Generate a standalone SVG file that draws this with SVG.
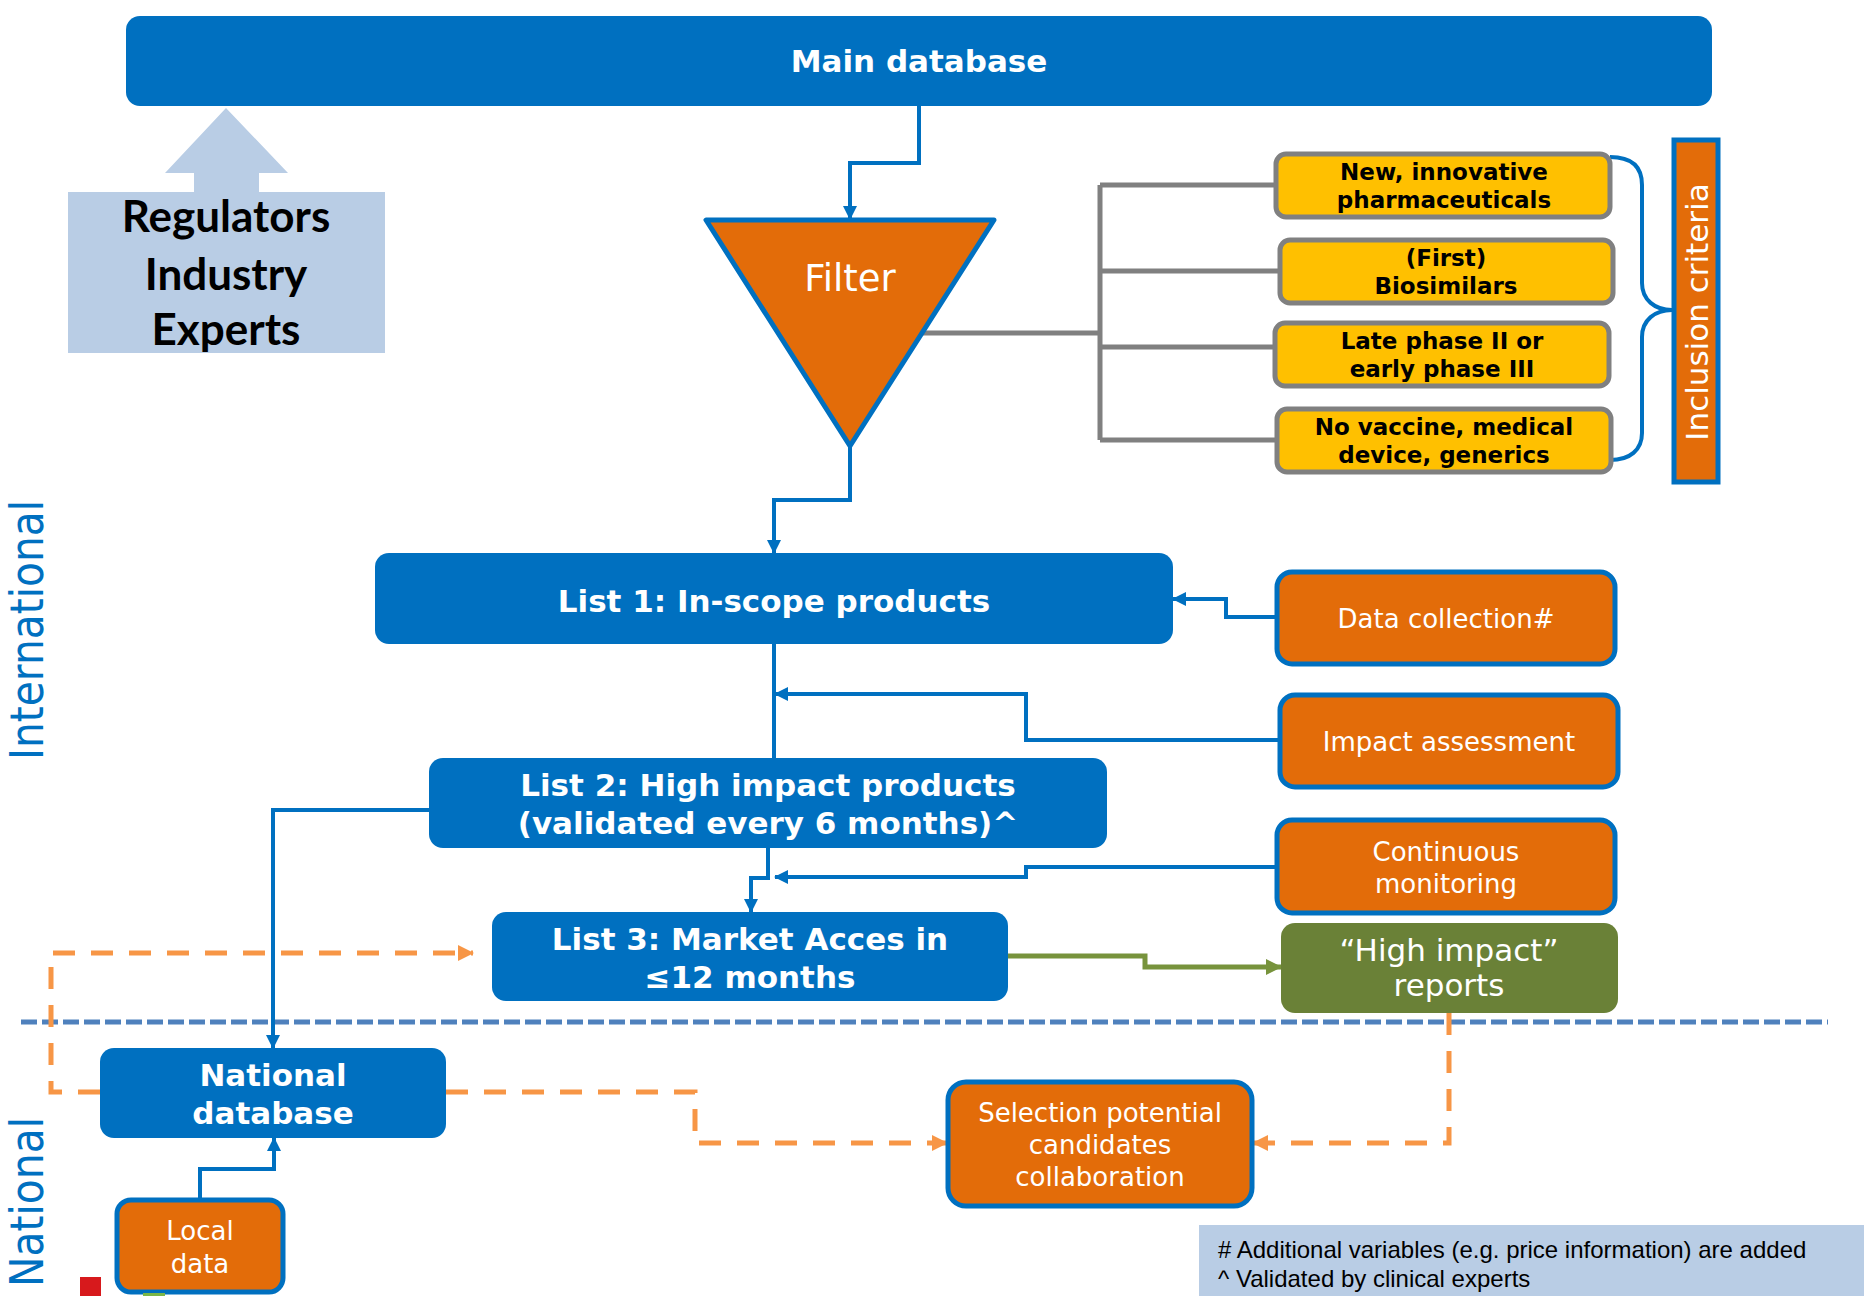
<svg xmlns="http://www.w3.org/2000/svg" width="1864" height="1296" viewBox="0 0 1864 1296">
<style>
.blue{fill:#0070C0}
.obox{fill:#E36C09;stroke:#0070C0;stroke-width:5}
.ybox{fill:#FFC000;stroke:#808080;stroke-width:5}
.wb{font-family:"DejaVu Sans",Verdana,sans-serif;font-weight:bold;fill:#fff;text-anchor:middle;font-size:31px}
.wr{font-family:"DejaVu Sans",Verdana,sans-serif;fill:#fff;text-anchor:middle;font-size:26px}
.big{font-size:31px}
.yb{font-family:"DejaVu Sans",Verdana,sans-serif;font-weight:bold;fill:#000;text-anchor:middle;font-size:23px}
.bl{fill:none;stroke:#0070C0;stroke-width:4}
.gr{fill:none;stroke:#808080;stroke-width:5}
.od{fill:none;stroke:#F79646;stroke-width:5;stroke-dasharray:22 16}
</style>
<defs>
<marker id="ab" markerUnits="userSpaceOnUse" markerWidth="14" markerHeight="14" refX="13" refY="7" orient="auto"><path d="M0,0 L14,7 L0,14 z" fill="#0070C0"/></marker>
<marker id="ao" markerUnits="userSpaceOnUse" markerWidth="16" markerHeight="16" refX="15" refY="8" orient="auto"><path d="M0,0 L16,8 L0,16 z" fill="#F79646"/></marker>
<marker id="ag" markerUnits="userSpaceOnUse" markerWidth="16" markerHeight="16" refX="15" refY="8" orient="auto"><path d="M0,0 L16,8 L0,16 z" fill="#77933C"/></marker>
<filter id="sh" x="-5%" y="-300%" width="110%" height="700%"><feGaussianBlur stdDeviation="2.5"/></filter>
</defs>

<!-- separator -->
<g id="separator">
<line x1="23" y1="1029" x2="1830" y2="1029" stroke="#777" stroke-width="6" stroke-dasharray="16 5" filter="url(#sh)" opacity="0.8"/>
<line x1="21" y1="1022" x2="1828" y2="1022" stroke="#4F81BD" stroke-width="5" stroke-dasharray="16 5"/>
</g>

<g id="side-labels" font-family="DejaVu Sans,Verdana,sans-serif" fill="#0070C0" font-size="46">
<text transform="translate(43,630) rotate(-90)" text-anchor="middle" textLength="260" lengthAdjust="spacingAndGlyphs">International</text>
<text transform="translate(43,1202) rotate(-90)" text-anchor="middle" textLength="170" lengthAdjust="spacingAndGlyphs">National</text>
</g>

<g id="connectors">
<path class="bl" d="M919,106 V163 H850 V219" marker-end="url(#ab)"/>
<path class="bl" d="M850,446 V500 H774 V553" marker-end="url(#ab)"/>
<path class="gr" d="M922,333 H1100 M1100,185 V440 M1100,185 H1276 M1100,271 H1280 M1100,347 H1275 M1100,440 H1277"/>
<path class="bl" d="M1610,157 C1630,157 1642,165 1642,185 V283 C1642,300 1655,310 1672,310 C1655,310 1642,320 1642,337 V433 C1642,450 1630,460 1610,460"/>
<path class="bl" d="M1277,617 H1226 V599 H1173" marker-end="url(#ab)"/>
<path class="bl" d="M774,644 V758"/>
<path class="bl" d="M1280,740 H1026 V694 H775" marker-end="url(#ab)"/>
<path class="bl" d="M1277,867 H1026 V877 H775" marker-end="url(#ab)"/>
<path class="bl" d="M768,848 V878 H751 V912" marker-end="url(#ab)"/>
<path class="bl" d="M429,810 H273 V1048" marker-end="url(#ab)"/>
<path class="bl" d="M200,1199 V1169 H274 V1138" marker-end="url(#ab)"/>
<path fill="none" stroke="#77933C" stroke-width="5" d="M1008,956 H1145 V967 H1281" marker-end="url(#ag)"/>
<path class="od" d="M100,1092 H51 V953 H473" marker-end="url(#ao)"/>
<path class="od" d="M446,1092 H695 V1143 H947" marker-end="url(#ao)"/>
<path class="od" d="M1449,1013 V1143 H1253" marker-end="url(#ao)"/>
</g>

<g id="main-database">
<rect class="blue" x="126" y="16" width="1586" height="90" rx="14"/>
<text class="wb" x="919" y="72">Main database</text>
</g>

<g id="stakeholders">
<path d="M226,108 L288,173 H259 V192 H385 V353 H68 V192 H194 V173 H165 Z" fill="#B9CDE5"/>
<g font-family="Lato,'Open Sans',sans-serif" font-weight="bold" font-size="44" text-anchor="middle" fill="#000">
<text x="226" y="232">Regulators</text>
<text x="226" y="290">Industry</text>
<text x="226" y="345">Experts</text>
</g>
</g>

<g id="filter">
<polygon points="706,220 994,220 850,446" fill="#E36C09" stroke="#0070C0" stroke-width="5" stroke-linejoin="round"/>
<text class="wr" x="850" y="291" style="font-size:37px">Filter</text>
</g>

<g id="crit-1"><rect class="ybox" x="1276" y="154" width="334" height="63" rx="10"/>
<text class="yb" x="1444" y="180">New, innovative</text><text class="yb" x="1444" y="208">pharmaceuticals</text></g>
<g id="crit-2"><rect class="ybox" x="1280" y="240" width="333" height="63" rx="10"/>
<text class="yb" x="1446" y="266">(First)</text><text class="yb" x="1446" y="294">Biosimilars</text></g>
<g id="crit-3"><rect class="ybox" x="1275" y="323" width="334" height="63" rx="10"/>
<text class="yb" x="1442" y="349">Late phase II or</text><text class="yb" x="1442" y="377">early phase III</text></g>
<g id="crit-4"><rect class="ybox" x="1277" y="409" width="334" height="63" rx="10"/>
<text class="yb" x="1444" y="435">No vaccine, medical</text><text class="yb" x="1444" y="463">device, generics</text></g>

<g id="inclusion-criteria">
<rect x="1674" y="140" width="44" height="342" fill="#E36C09" stroke="#0070C0" stroke-width="5"/>
<text class="wr big" transform="translate(1708,312) rotate(-90)">Inclusion criteria</text>
</g>

<g id="list1">
<rect class="blue" x="375" y="553" width="798" height="91" rx="14"/>
<text class="wb" x="774" y="612">List 1: In-scope products</text>
</g>
<g id="list2">
<rect class="blue" x="429" y="758" width="678" height="90" rx="14"/>
<text class="wb" x="768" y="796">List 2: High impact products</text>
<text class="wb" x="768" y="834">(validated every 6 months)^</text>
</g>
<g id="list3">
<rect class="blue" x="492" y="912" width="516" height="89" rx="14"/>
<text class="wb" x="750" y="950">List 3: Market Acces in</text>
<text class="wb" x="750" y="988">≤12 months</text>
</g>

<g id="data-collection"><rect class="obox" x="1277" y="572" width="338" height="92" rx="15"/>
<text class="wr" x="1446" y="628">Data collection#</text></g>
<g id="impact-assessment"><rect class="obox" x="1280" y="695" width="338" height="92" rx="15"/>
<text class="wr" x="1449" y="751">Impact assessment</text></g>
<g id="continuous-monitoring"><rect class="obox" x="1277" y="820" width="338" height="93" rx="15"/>
<text class="wr" x="1446" y="861">Continuous</text><text class="wr" x="1446" y="893">monitoring</text></g>

<g id="high-impact-reports">
<rect x="1281" y="923" width="337" height="90" rx="14" fill="#6A8137"/>
<text class="wr big" x="1449" y="961">“High impact”</text>
<text class="wr big" x="1449" y="996">reports</text>
</g>

<g id="national-database">
<rect class="blue" x="100" y="1048" width="346" height="90" rx="14"/>
<text class="wb" x="273" y="1086">National</text>
<text class="wb" x="273" y="1124">database</text>
</g>

<g id="local-data">
<rect class="obox" x="117" y="1200" width="166" height="92" rx="14"/>
<text class="wr" x="200" y="1240">Local</text>
<text class="wr" x="200" y="1273">data</text>
</g>

<g id="selection">
<rect class="obox" x="948" y="1082" width="304" height="124" rx="18"/>
<text class="wr" x="1100" y="1122">Selection potential</text>
<text class="wr" x="1100" y="1154">candidates</text>
<text class="wr" x="1100" y="1186">collaboration</text>
</g>

<g id="footnote">
<rect x="1199" y="1225" width="665" height="71" fill="#B9CDE5"/>
<g font-family="'Liberation Sans',Arial,sans-serif" font-size="24" fill="#000">
<text x="1218" y="1258">
# Additional variables (e.g. price information) are added</text>
<text x="1218" y="1287">^ Validated by clinical experts</text>
</g>
</g>

<g id="corner-marks">
<rect x="80" y="1277" width="21" height="19" fill="#D7191C"/>
<rect x="143" y="1293" width="22" height="3" fill="#7AB648"/>
</g>
</svg>
